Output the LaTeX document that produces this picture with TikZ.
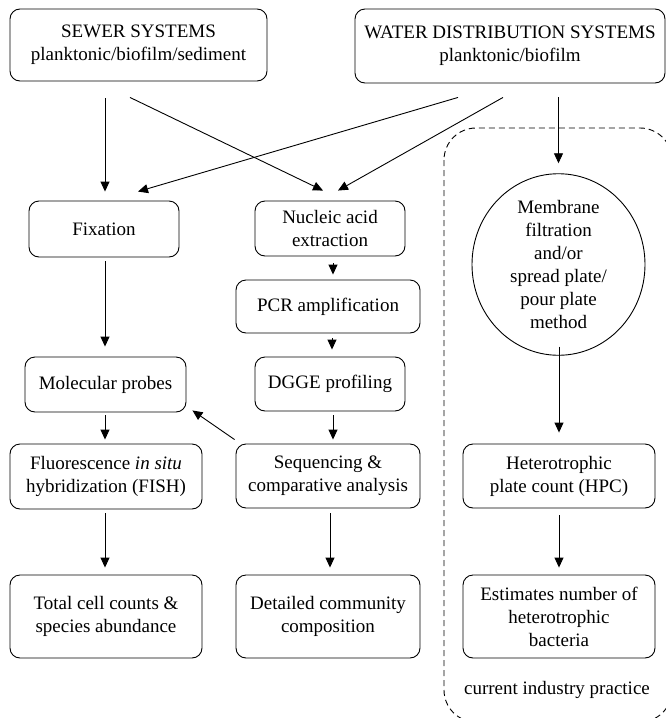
\documentclass[tikz,border=0pt]{standalone}
\usepackage{fontspec}
\setmainfont{Liberation Serif}
\newfontfamily\tnr{Liberation Serif}
\usetikzlibrary{arrows.meta,shapes.geometric,calc}
\begin{document}
\begin{tikzpicture}[x=1pt,y=-1pt,
  txt/.style={font=\tnr\fontsize{19}{23}\selectfont, align=center, inner sep=0pt},
  rbox/.style={txt, draw, rounded corners=10pt, line width=0.9pt},
  arr/.style={-{Triangle[length=10pt,width=9pt]}, line width=0.9pt},
]
\useasboundingbox (0,0) rectangle (666,718);
\clip (0,0) rectangle (666,718);
\fill[white] (0,0) rectangle (666,718);
% dashed region (current industry practice)
\draw[dash pattern=on 6pt off 4pt, line width=0.9pt, rounded corners=32pt] (444,128) rectangle (672,722);

% top sources
\node[rbox, minimum width=257pt, minimum height=72pt] (sewer) at (138.5,45) {SEWER SYSTEMS\\planktonic/biofilm/sediment};
\node[rbox, minimum width=310pt, minimum height=74pt] (wds) at (510,46) {WATER DISTRIBUTION SYSTEMS\\planktonic/biofilm};

% left column
\node[rbox, minimum width=150pt, minimum height=56pt] (fix) at (104,229) {Fixation};
\node[rbox, minimum width=161pt, minimum height=55pt] (mol) at (105.5,384.5) {Molecular probes};
\node[rbox, minimum width=192pt, minimum height=65pt] (fish) at (106,476.5) {Fluorescence \textit{in situ}\\hybridization (FISH)};
\node[rbox, minimum width=192pt, minimum height=83pt] (total) at (106,616.5) {Total cell counts \&\\species abundance};

% middle column
\node[rbox, minimum width=150pt, minimum height=55pt] (nuc) at (330,228.5) {Nucleic acid\\extraction};
\node[rbox, minimum width=184pt, minimum height=53pt] (pcr) at (328,306.5) {PCR amplification};
\node[rbox, minimum width=150pt, minimum height=54pt] (dgge) at (330,384) {DGGE profiling};
\node[rbox, minimum width=184pt, minimum height=64pt] (seq) at (328,476) {Sequencing \&\\comparative analysis};
\node[rbox, minimum width=184pt, minimum height=83pt] (det) at (328,616.5) {Detailed community\\composition};

% right column
\node[txt, draw, ellipse, line width=0.9pt, minimum width=173pt, minimum height=166pt] (circ) at (558.5,264.5) {Membrane\\filtration\\and/or\\spread plate/\\pour plate\\method};
\node[rbox, minimum width=192pt, minimum height=64pt] (hpc) at (559,476) {Heterotrophic\\plate count (HPC)};
\node[rbox, minimum width=192pt, minimum height=83pt] (est) at (559,616.5) {Estimates number of\\heterotrophic\\bacteria};
\node[txt] (cip) at (557,690) {current industry practice};

% connectors
\draw[arr] ($(sewer.south -| fix.north)+(1,17)$) -- ($(fix.north)+(1,-9)$);
\draw[arr] ($(sewer.south)+(-8.5,16)$) -- ($(nuc.north)+(-7,-10)$);
\draw[arr] ($(wds.south)+(-52,14)$) -- ($(fix.north)+(34,-9)$);
\draw[arr] ($(wds.south)+(-7,14)$) -- ($(nuc.north)+(8,-10)$);
\draw[arr] ($(wds.south -| circ.north)+(0,14)$) -- ($(circ.north)+(0,-10)$);

\draw[arr] ($(nuc.south)+(3,7)$) -- ($(pcr.north)+(5,-5)$);
\draw[arr] ($(pcr.south)+(4,5)$) -- ($(dgge.north)+(2,-7)$);
\draw[arr] ($(dgge.south)+(3,4)$) -- ($(seq.north)+(5,-4)$);
\draw[arr] ($(seq.south)+(2,5)$) -- ($(det.north)+(2,-7)$);

\draw[arr] ($(fix.south)+(1,4)$) -- ($(mol.north)+(-0.5,-10)$);
\draw[arr] ($(mol.south)+(-0.5,3)$) -- ($(fish.north)+(-1,-4)$);
\draw[arr] ($(seq.north west)+(-1,-4)$) -- ($(mol.south east)+(6,-2)$);
\draw[arr] ($(fish.south)+(-1,4)$) -- ($(total.north)+(-1,-7)$);

\draw[arr] ($(circ.south)+(0.5,-9)$) -- ($(hpc.north)+(0,-11)$);
\draw[arr] ($(hpc.south)+(0,7)$) -- ($(est.north)+(0,-7)$);
\end{tikzpicture}
\end{document}
